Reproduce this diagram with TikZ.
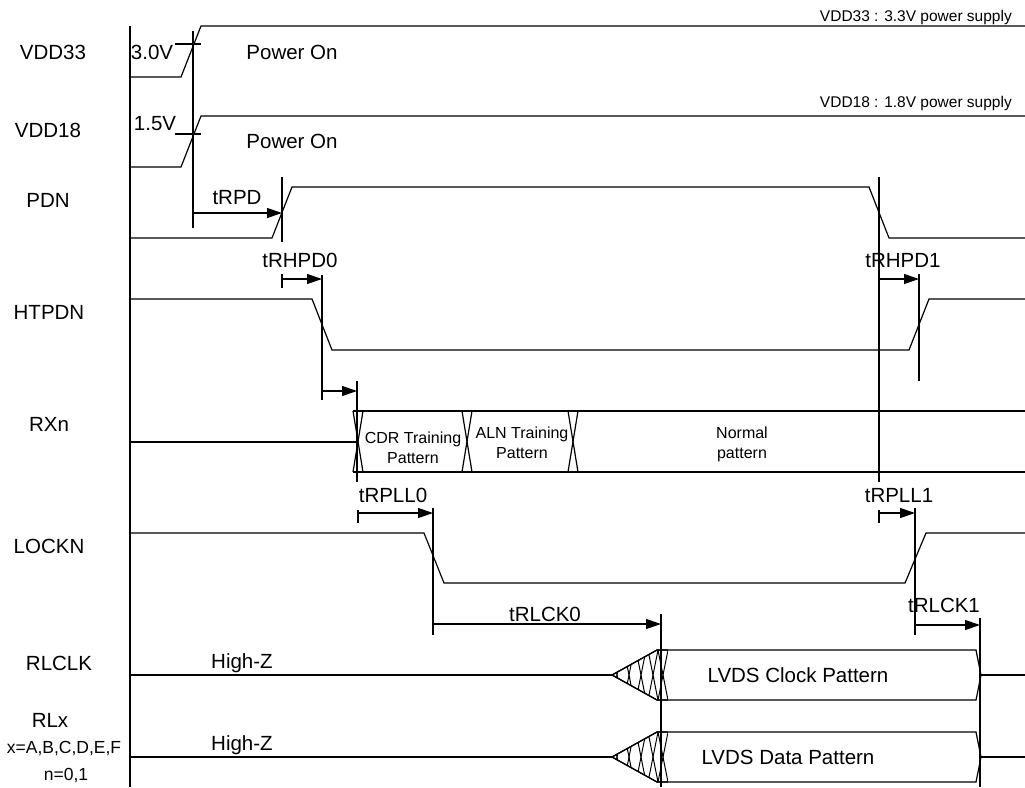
\documentclass[tikz,border=0pt]{standalone}
\usepackage{fontspec}
\setmainfont{Liberation Sans}
\usetikzlibrary{arrows.meta}
\begin{document}
\begin{tikzpicture}[x=1pt,y=-1pt,
  sig/.style={line width=1.2pt, line join=miter},
  guide/.style={line width=1.2pt},
  tarr/.style={line width=1.2pt, -{Triangle[length=15pt,width=10pt]}},
  lbl/.style={font=\fontsize{20.5}{24}\selectfont, inner sep=0pt, anchor=base},
  sml/.style={font=\fontsize{16}{19}\selectfont, inner sep=0pt, anchor=base},
  tny/.style={font=\fontsize{15.5}{18}\selectfont, inner sep=0pt, anchor=base east},
  xlb/.style={font=\fontsize{17.5}{20}\selectfont, inner sep=0pt, anchor=base}]
\useasboundingbox (0,0) rectangle (1025,787);

% ---- signal names
\node[lbl] (nVDD33) at (53,59) {VDD33};
\node[lbl] (nVDD18) at (48,137) {VDD18};
\node[lbl] (nPDN) at (48,207) {PDN};
\node[lbl] (nHTPDN) at (49,319) {HTPDN};
\node[lbl] (nRXn) at (49,431) {RXn};
\node[lbl] (nLOCKN) at (49,553) {LOCKN};
\node[lbl] (nRLCLK) at (59,670) {RLCLK};
\node[lbl] (nRLx) at (50,727) {RLx};
\node[xlb] (nxs) at (64,753) {x=A,B,C,D,E,F};
\node[xlb] (nns) at (66,780) {n=0,1};

% ---- left axis
\draw[guide] (130,26) -- (130,787);

% ---- VDD33
\draw[sig] (130,77) -- (181,77) -- (201,26) -- (1025,26);
\draw[guide] (175,44) -- (201,44);
\node[lbl] (v30) at (152,59) {3.0V};
\node[lbl] (pon1) at (292,59) {Power On};
\node[tny] (s33) at (1012,21) {VDD33 : 3.3V power supply};

% ---- VDD18
\draw[sig] (130,167) -- (181,167) -- (201,116) -- (1025,116);
\draw[guide] (175,134) -- (201,134);
\node[lbl] (v15) at (155,130) {1.5V};
\node[lbl] (pon2) at (292,148) {Power On};
\node[tny] (s18) at (1012,107) {VDD18 : 1.8V power supply};

% ---- guide line from VDD ramps
\coordinate (g1t) at (193,31);
\coordinate (g1b) at (193,228);
\draw[guide] (g1t) -- (g1b);

% ---- PDN
\draw[sig] (130,238) -- (272,238) -- (292,187) -- (869,187) -- (889,238) -- (1025,238);
\coordinate (g2t) at (282,177);
\coordinate (g2b) at (282,242);
\draw[guide] (g2t) -- (g2b);
\coordinate (aRPDs) at (193,213);
\coordinate (aRPDe) at (282,213);
\draw[tarr] (aRPDs) -- (aRPDe);
\node[lbl] (tRPD) at (237,204) {tRPD};

% long guide at PDN fall
\coordinate (g3t) at (879,177);
\coordinate (g3b) at (879,482);
\draw[guide] (g3t) -- (g3b);

% ---- HTPDN
\draw[sig] (130,299) -- (312,299) -- (332,350) -- (909,350) -- (929,299) -- (1025,299);
\coordinate (g4t) at (322,275);
\coordinate (g4b) at (322,400);
\draw[guide] (g4t) -- (g4b);
\draw[guide] (282,274) -- (282,288);
\coordinate (aH0s) at (282,279);
\coordinate (aH0e) at (322,279);
\draw[tarr] (aH0s) -- (aH0e);
\node[lbl] (tRHPD0) at (300,267) {tRHPD0};

\coordinate (g5t) at (919,274);
\coordinate (g5b) at (919,381);
\draw[guide] (g5t) -- (g5b);
\coordinate (aH1s) at (879,279);
\coordinate (aH1e) at (919,279);
\draw[tarr] (aH1s) -- (aH1e);
\node[lbl] (tRHPD1) at (903,267) {tRHPD1};

% ---- RXn
\coordinate (g6t) at (357,381);
\coordinate (g6b) at (357,482);
\draw[guide] (g6t) -- (g6b);
\coordinate (aRXs) at (322,391);
\coordinate (aRXe) at (357,391);
\draw[tarr] (aRXs) -- (aRXe);
\draw[sig] (130,442) -- (358,442);
\draw[sig] (353,411) -- (1025,411);
\draw[sig] (353,472) -- (1025,472);
\foreach \cx in {358,467,573}{
  \draw[sig] (\cx-5,411) -- (\cx+5,472);
  \draw[sig] (\cx+5,411) -- (\cx-5,472);
}
\node[sml] (cdr1) at (413,443) {CDR Training};
\node[sml] (cdr2) at (413,463) {Pattern};
\node[sml] (aln1) at (522,438) {ALN Training};
\node[sml] (aln2) at (522,458) {Pattern};
\node[sml] (nor1) at (742,438) {Normal};
\node[sml] (nor2) at (742,458) {pattern};

% ---- tRPLL0 / tRPLL1
\draw[guide] (358,510) -- (358,523);
\coordinate (aP0s) at (358,513);
\coordinate (aP0e) at (433,513);
\draw[tarr] (aP0s) -- (aP0e);
\node[lbl] (tRPLL0) at (393,502) {tRPLL0};
\coordinate (g7t) at (433,508);
\coordinate (g7b) at (433,635);
\draw[guide] (g7t) -- (g7b);

\draw[guide] (879,510) -- (879,523);
\coordinate (aP1s) at (879,513);
\coordinate (aP1e) at (915,513);
\draw[tarr] (aP1s) -- (aP1e);
\node[lbl] (tRPLL1) at (899,502) {tRPLL1};
\coordinate (g8t) at (915,508);
\coordinate (g8b) at (915,635);
\draw[guide] (g8t) -- (g8b);

% ---- LOCKN
\draw[sig] (130,533) -- (424,533) -- (444,583) -- (905,583) -- (926,533) -- (1025,533);

% ---- tRLCK0 / tRLCK1
\coordinate (aL0s) at (433,624);
\coordinate (aL0e) at (661,624);
\draw[tarr] (aL0s) -- (aL0e);
\node[lbl] (tRLCK0) at (545,621) {tRLCK0};
\coordinate (aL1s) at (915,625);
\coordinate (aL1e) at (980,625);
\draw[tarr] (aL1s) -- (aL1e);
\node[lbl] (tRLCK1) at (944,612) {tRLCK1};
\coordinate (g9t) at (661,614);
\coordinate (g9b) at (661,787);
\draw[guide] (g9t) -- (g9b);
\coordinate (g10t) at (980,618);
\coordinate (g10b) at (980,787);
\draw[guide] (g10t) -- (g10b);

% ---- RLCLK and RLx buses
\foreach \yc/\name in {675/clk,757/dat}{
  \draw[sig] (130,\yc) -- (612,\yc);
  \draw[sig] (612,\yc) -- (657,\yc-25) -- (976,\yc-25) -- (981,\yc) -- (976,\yc+25) -- (657,\yc+25) -- cycle;
  \draw[sig] (981,\yc) -- (1025,\yc);
  \begin{scope}
    \clip (612,\yc) -- (657,\yc-25) -- (668,\yc-25) -- (668,\yc+25) -- (657,\yc+25) -- cycle;
    \foreach \a in {612,624,636,648,658}{
      \draw[line width=1pt] (\a,\yc-25) -- (\a+10,\yc+25);
      \draw[line width=1pt] (\a+10,\yc-25) -- (\a,\yc+25);
    }
  \end{scope}
  \draw[sig] (612,\yc) -- (657,\yc-25) -- (668,\yc-25);
  \draw[sig] (612,\yc) -- (657,\yc+25) -- (668,\yc+25);
}
\node[lbl] (hz1) at (242,668) {High-Z};
\node[lbl] (hz2) at (242,750) {High-Z};
\node[lbl] (lclk) at (798,682) {LVDS Clock Pattern};
\node[lbl] (ldat) at (788,764) {LVDS Data Pattern};
\end{tikzpicture}
\end{document}
